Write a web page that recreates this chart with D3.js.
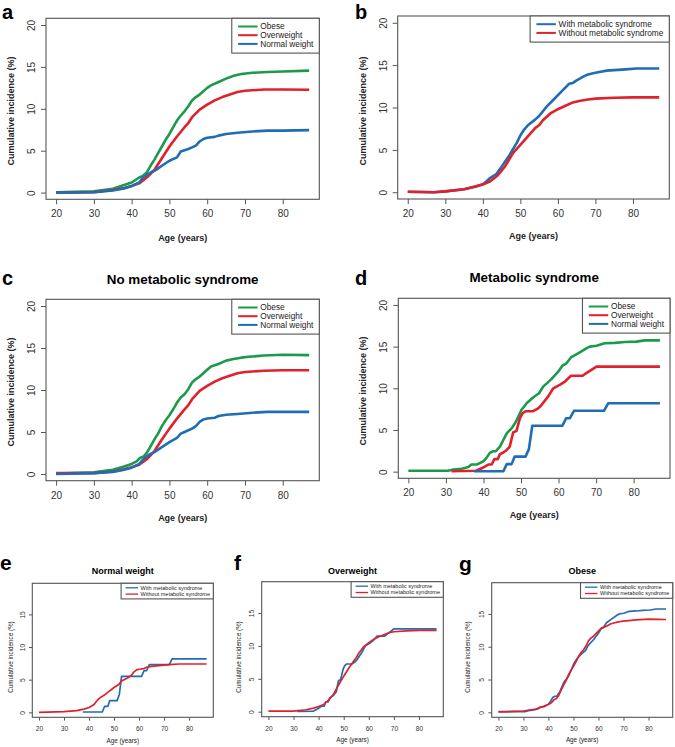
<!DOCTYPE html>
<html>
<head>
<meta charset="utf-8">
<script src="https://cdn.jsdelivr.net/npm/d3@7"></script>
<style>
body { margin: 0; background: #fff; }
</style>
</head>
<body>
<div id="chart"></div>
<script>
// ---- data ----
var ageTicks = [20, 30, 40, 50, 60, 70, 80];
var yTicksTop = [0, 5, 10, 15, 20];
var yTicksBottom = [0, 5, 10, 15];

// a: all participants by BMI group
var aObeseAge = [20,30,35,38,40,42,43,44,45,46,47,48,49,50,51,52,53,54,55,56,57,58,59,60,61,63,65,67,69,72,76,80,87];
var aObeseInc = [0.05,0.15,0.45,0.9,1.2,1.8,2.0,2.4,3.2,3.9,4.7,5.5,6.3,7.0,7.8,8.6,9.2,9.7,10.3,11.0,11.4,11.7,12.1,12.5,12.8,13.2,13.6,13.95,14.15,14.3,14.4,14.45,14.55];
var aOverAge = [20,30,35,38,40,42,44,46,48,50,52,54,55,56,58,60,62,64,66,68,70,75,80,87];
var aOverInc = [0.0,0.05,0.3,0.55,0.8,1.1,1.8,2.7,4.1,5.5,6.7,7.8,8.3,9.0,9.9,10.5,11.0,11.4,11.7,12.0,12.15,12.3,12.3,12.27];
var aNormAge = [20,30,35,38,40,42,43,44,45,46,47,48,49,50,52,53,54,55,56,57,58,59,60,62,63,65,68,72,76,80,87];
var aNormInc = [0.0,0.05,0.25,0.5,0.8,1.2,1.8,2.1,2.4,2.6,2.9,3.2,3.5,3.8,4.2,4.9,5.05,5.2,5.4,5.6,6.1,6.4,6.55,6.65,6.8,7.0,7.15,7.3,7.4,7.4,7.45];

// b: with / without metabolic syndrome
var bWithAge = [20,24,27,30,35,38,40,41,42,43.5,45,47,49,50,51,52,54,55,57,59,61,63,64,65,67,68,70,73,78,81,87];
var bWithInc = [0.05,0.02,0.0,0.1,0.35,0.65,0.95,1.3,1.7,2.1,3.0,4.3,5.8,6.7,7.4,7.9,8.6,9.0,10.1,11.0,11.9,12.8,12.9,13.2,13.7,13.9,14.1,14.35,14.5,14.6,14.6];
var bWithoutAge = [20,27,30,35,40,42,44,46,48,50,52,54,55,56,58,60,62,64,66,68,70,75,80,87];
var bWithoutInc = [0.05,0.0,0.1,0.35,0.9,1.3,2.0,3.1,4.6,5.6,6.6,7.6,7.9,8.5,9.3,9.8,10.2,10.6,10.8,10.95,11.05,11.15,11.2,11.2];

// c: no metabolic syndrome
var cObeseAge = [20,30,35,38,40,41.3,42.2,43.2,44,45,46,47,48,49,50,51,52,53,54,55,56,57,58,59,60,61,63,65,67,69,71,75,80,87];
var cObeseInc = [0.05,0.2,0.5,0.9,1.2,1.5,1.9,2.1,2.5,3.3,4.1,4.8,5.7,6.4,7.0,7.7,8.5,9.1,9.5,10.1,10.9,11.3,11.6,12.0,12.4,12.8,13.1,13.5,13.7,13.85,13.95,14.1,14.2,14.15];
var cOverAge = [20,30,35,38,40,42,44,46,48,50,52,54,55,56,58,60,62,64,66,68,70,75,80,87];
var cOverInc = [0.1,0.1,0.3,0.55,0.8,1.1,1.75,2.7,4.1,5.4,6.6,7.7,8.2,8.9,9.9,10.5,11.0,11.4,11.7,12.0,12.15,12.3,12.35,12.35];
var cNormAge = [20,30,35,38,40,42,43,44,45,46,47,48,49,50,52,53,54,55,56,57,58,59,60,62,63,65,68,72,76,80,87];
var cNormInc = [0.0,0.1,0.25,0.5,0.75,1.2,1.7,2.1,2.4,2.6,2.9,3.2,3.5,3.8,4.3,4.8,5.0,5.2,5.4,5.7,6.2,6.5,6.6,6.7,6.9,7.05,7.15,7.3,7.4,7.4,7.4];

// d: metabolic syndrome
var dObeseAge = [20,30.6,32,34.2,36,36.8,38.2,40,40.8,41.7,42.6,43.3,44.4,45.3,46.2,47.5,48.4,49.3,50.1,51.5,53.2,54.8,55.9,58.1,59.9,61,62.1,63.3,65.2,67.4,68.3,70.1,72.3,75,77.6,80.7,83,87];
var dObeseInc = [0.1,0.1,0.25,0.35,0.55,0.85,0.85,1.25,1.65,2.25,2.45,2.45,3.0,3.8,4.6,5.2,5.8,6.6,7.4,8.2,8.9,9.4,10.2,11.1,12.0,12.7,13.0,13.7,14.2,14.8,15.0,15.1,15.4,15.45,15.55,15.6,15.75,15.75];
var dOverAge = [31.5,38.0,39.5,41.3,42.2,42.9,43.8,44.4,45.3,46.2,47.0,47.9,48.8,49.7,50.4,51.2,53.2,54.6,55.3,57.2,58.6,60.3,61.7,63.3,66.4,67.3,70.1,87];
var dOverInc = [0.05,0.1,0.4,0.85,0.85,1.5,1.5,2.1,2.3,2.6,3.0,4.7,4.9,6.4,7.0,7.25,7.25,7.6,7.9,9.0,10.0,10.4,10.8,11.5,11.5,11.8,12.6,12.6];
var dNormAge = [37.5,45.3,46.2,47.5,48.3,51.2,52.1,53.0,61.0,62.0,63.0,64.1,72.1,73.2,87];
var dNormInc = [0.05,0.05,0.9,0.9,1.8,1.8,2.7,5.5,5.5,6.4,6.4,7.3,7.3,8.2,8.2];

var green = "#1c9a4c", red = "#e2202b", blue = "#1f6db4";
var FONT = "'Liberation Sans', Arial, Helvetica, sans-serif";

var svg = d3.select("#chart")
            .append("svg")
            .attr("width", 675)
            .attr("height", 747)
            .style("font-family", FONT);

function series(ages, inc, color, label) {
    return { pts: ages.map(function(a, i) { return [a, inc[i]]; }), color: color, label: label };
}

var bmiLabels = ["Obese", "Overweight", "Normal weight"];
var metsLabels = ["With metabolic syndrome", "Without metabolic syndrome"];

// styles for the big (top) and small (bottom) panels
var big = { tick: 5, xLab: 18, yLab: 11, tickFont: 10, axFont: 9, axWeight: "bold", lw: 2.6,
            legFont: 8.3, legLw: 2, legTop: 8.2, legStep: 8.7, legBot: 9.2, legInset: 6.3, legLen: 19.5, legText: 28.5, legRight: 6,
            yTicks: yTicksTop, yDom: [-0.8, 20.8], letterFont: 20, titleFont: 13.4 };
var small = { tick: 3.3, xLab: 14, yLab: 7.3, tickFont: 6.6, axFont: 6.3, axWeight: "normal", lw: 1.7,
              legFont: 5.5, legLw: 1.3, legTop: 4.5, legStep: 6.3, legBot: 4.8, legInset: 4.5, legLen: 12.5, legText: 19.5, legRight: 3.3,
              yTicks: yTicksBottom, yDom: [-0.76, 19.76], letterFont: 21, titleFont: 9 };

var panels = [
    { s: big, letter: "a", lx: 2, ly: 18.5, box: [46, 319.3, 18.3, 199.3], xt: 240.5, ytx: 13.5, yty: 111,
      lines: [series(aObeseAge, aObeseInc, green, bmiLabels[0]), series(aOverAge, aOverInc, red, bmiLabels[1]), series(aNormAge, aNormInc, blue, bmiLabels[2])] },
    { s: big, letter: "b", lx: 355, ly: 18.5, box: [397.7, 669.3, 16, 199], xt: 238.5, ytx: 366, yty: 111,
      lines: [series(bWithAge, bWithInc, blue, metsLabels[0]), series(bWithoutAge, bWithoutInc, red, metsLabels[1])] },
    { s: big, letter: "c", lx: 2, ly: 285, title: "No metabolic syndrome", ty: 283.5, box: [46, 319.3, 299.3, 480.7], xt: 520.5, ytx: 14, yty: 392,
      lines: [series(cObeseAge, cObeseInc, green, bmiLabels[0]), series(cOverAge, cOverInc, red, bmiLabels[1]), series(cNormAge, cNormInc, blue, bmiLabels[2])] },
    { s: big, letter: "d", lx: 355, ly: 285, title: "Metabolic syndrome", ty: 282, box: [398.3, 670, 298.3, 478.3], xt: 517.5, ytx: 366, yty: 391,
      lines: [series(dObeseAge, dObeseInc, green, bmiLabels[0]), series(dOverAge, dOverInc, red, bmiLabels[1]), series(dNormAge, dNormInc, blue, bmiLabels[2])] },
    { s: small, letter: "e", lx: 0, ly: 570, title: "Normal weight", ty: 573.5, box: [32.3, 213.3, 583.3, 717.3], xt: 743, ytx: 12.5, yty: 657,
      lines: [series(dNormAge, dNormInc, blue, metsLabels[0]), series(cNormAge, cNormInc, red, metsLabels[1])] },
    { s: small, letter: "f", lx: 234, ly: 570, title: "Overweight", ty: 573.5, box: [261.7, 443.3, 581.7, 716.7], xt: 742, ytx: 240.5, yty: 657,
      lines: [series(dOverAge, dOverInc, blue, metsLabels[0]), series(cOverAge, cOverInc, red, metsLabels[1])] },
    { s: small, letter: "g", lx: 459, ly: 571, title: "Obese", ty: 573.5, box: [491.7, 672.7, 582.7, 717.3], xt: 742, ytx: 469.5, yty: 657,
      lines: [series(dObeseAge, dObeseInc, blue, metsLabels[0]), series(cObeseAge, cObeseInc, red, metsLabels[1])] }
];

panels.forEach(function(p) {
    var s = p.s;
    var x0 = p.box[0], x1 = p.box[1], y0 = p.box[2], y1 = p.box[3];
    var g = svg.append("g");

    var xScale = d3.scaleLinear().domain([17.32, 89.68]).range([x0, x1]);
    var yScale = d3.scaleLinear().domain(s.yDom).range([y1, y0]);

    // curves
    var line = d3.line().x(function(d) { return xScale(d[0]); }).y(function(d) { return yScale(d[1]); });
    p.lines.forEach(function(l) {
        g.append("path")
            .attr("d", line(l.pts))
            .attr("fill", "none")
            .attr("stroke", l.color)
            .attr("stroke-width", s.lw)
            .attr("stroke-linejoin", "round");
    });

    // axes
    var xAxis = d3.axisBottom(xScale).tickValues(ageTicks).tickSize(s.tick).tickSizeOuter(0);
    var yAxis = d3.axisLeft(yScale).tickValues(s.yTicks).tickSize(s.tick).tickSizeOuter(0);
    var gx = g.append("g").attr("transform", "translate(0," + y1 + ")").call(xAxis);
    var gy = g.append("g").attr("transform", "translate(" + x0 + ",0)").call(yAxis);
    [gx, gy].forEach(function(ax) {
        ax.attr("font-family", FONT).attr("font-size", s.tickFont);
        ax.select(".domain").remove();
        ax.selectAll(".tick line").attr("stroke", "#555");
        ax.selectAll(".tick text").attr("fill", "#333");
    });
    gx.selectAll(".tick text").attr("y", s.xLab).attr("dy", 0);
    gy.selectAll(".tick text")
        .attr("x", 0).attr("y", 0).attr("dy", 0)
        .attr("text-anchor", "middle")
        .attr("transform", "translate(" + (-s.yLab) + ",0) rotate(-90)");

    // box
    g.append("rect")
        .attr("x", x0).attr("y", y0)
        .attr("width", x1 - x0).attr("height", y1 - y0)
        .attr("fill", "none").attr("stroke", "#555").attr("stroke-width", 1.1);

    // axis titles
    g.append("text")
        .attr("x", (x0 + x1) / 2).attr("y", p.xt)
        .attr("text-anchor", "middle")
        .attr("font-size", s.axFont).attr("font-weight", s.axWeight).attr("fill", "#222")
        .text("Age (years)");
    g.append("text")
        .attr("transform", "translate(" + p.ytx + "," + p.yty + ") rotate(-90)")
        .attr("text-anchor", "middle")
        .attr("font-size", s.axFont).attr("font-weight", s.axWeight).attr("fill", "#222")
        .text("Cumulative incidence (%)");

    // panel letter and title
    g.append("text")
        .attr("x", p.lx).attr("y", p.ly)
        .attr("font-size", s.letterFont).attr("font-weight", "bold")
        .text(p.letter);
    if (p.title) {
        g.append("text")
            .attr("x", (x0 + x1) / 2).attr("y", p.ty)
            .attr("text-anchor", "middle")
            .attr("font-size", s.titleFont).attr("font-weight", "bold")
            .text(p.title);
    }

    // legend (top right, flush with the box)
    var leg = g.append("g");
    var legRect = leg.append("rect");
    var maxW = 0;
    p.lines.forEach(function(l, i) {
        var yy = y0 + s.legTop + i * s.legStep;
        leg.append("line")
            .attr("x1", s.legInset).attr("x2", s.legInset + s.legLen)
            .attr("y1", yy).attr("y2", yy)
            .attr("stroke", l.color).attr("stroke-width", s.legLw);
        var t = leg.append("text")
            .attr("x", s.legText).attr("y", yy).attr("dy", "0.35em")
            .attr("font-size", s.legFont).attr("fill", "#222")
            .text(l.label);
        maxW = Math.max(maxW, t.node().getComputedTextLength());
    });
    var legW = s.legText + maxW + s.legRight;
    var legH = s.legTop + (p.lines.length - 1) * s.legStep + s.legBot;
    legRect.attr("x", 0).attr("y", y0).attr("width", legW).attr("height", legH)
        .attr("fill", "#fff").attr("stroke", "#555").attr("stroke-width", 1.1);
    leg.attr("transform", "translate(" + (x1 - legW) + ",0)");
});
</script>
</body>
</html>
